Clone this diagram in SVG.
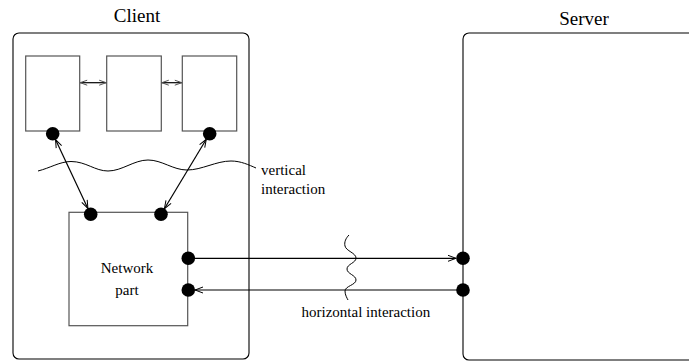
<svg xmlns="http://www.w3.org/2000/svg" width="689" height="362" viewBox="0 0 689 362">
<style>
.frame{fill:none;stroke:#000;stroke-width:1.1}
.box{fill:none;stroke:#555;stroke-width:1.2}
.dot{fill:#000}
.ln{fill:none;stroke:#000;stroke-width:1.2}
.wave{fill:none;stroke:#000;stroke-width:1}
text{font-family:'Liberation Serif','Times New Roman','DejaVu Serif',serif;fill:#000}
.title{font-size:19px}
.lbl{font-size:15px}
</style>
<defs>
<marker id="ah" viewBox="-10 -5 12 10" refX="0" refY="0" markerWidth="12" markerHeight="10" orient="auto-start-reverse" markerUnits="userSpaceOnUse">
<path d="M-8,-3 L0,0 L-8,3" fill="none" stroke="#000" stroke-width="1"/>
</marker>
<marker id="ahs" viewBox="-10 -5 12 10" refX="0" refY="0" markerWidth="12" markerHeight="10" orient="auto-start-reverse" markerUnits="userSpaceOnUse">
<path d="M-7,-2.5 L0,0 L-7,2.5" fill="none" stroke="#555" stroke-width="1"/>
</marker>
</defs>

<g id="client">
<rect class="frame" x="13" y="33" width="236" height="326" rx="6"/>
<text class="title" x="137" y="22" text-anchor="middle" font-family="Liberation Serif, serif">Client</text>
</g>
<g id="server">
<rect class="frame" x="463" y="33" width="300" height="327" rx="6"/>
<text class="title" x="584" y="25" text-anchor="middle" font-family="Liberation Serif, serif">Server</text>
</g>
<g id="comp1">
<rect class="box" x="25.7" y="56" width="54" height="75"/>
<circle class="dot" cx="52.7" cy="133.7" r="6.8"/>
</g>
<g id="comp2">
<rect class="box" x="106.7" y="56" width="54.6" height="75"/>
</g>
<g id="comp3">
<rect class="box" x="182.3" y="56" width="54.4" height="75"/>
<circle class="dot" cx="209.7" cy="133.7" r="6.8"/>
</g>
<g id="network">
<rect class="box" x="69" y="212.3" width="118.7" height="113.4"/>
<text class="lbl" x="127" y="273" text-anchor="middle" font-family="Liberation Serif, serif">Network</text>
<text class="lbl" x="127" y="295" text-anchor="middle" font-family="Liberation Serif, serif">part</text>
<circle class="dot" cx="90.7" cy="214.3" r="6.8"/>
<circle class="dot" cx="161" cy="214.3" r="6.8"/>
<circle class="dot" cx="188.3" cy="258.3" r="6.8"/>
<circle class="dot" cx="188.3" cy="290" r="6.8"/>
</g>
<g id="server-ports">
<circle class="dot" cx="463" cy="258.3" r="6.8"/>
<circle class="dot" cx="463" cy="290" r="6.8"/>
</g>

<g id="connectors">
<line class="ln" x1="80.2" y1="82.7" x2="106.2" y2="82.7" stroke-width="1.8" marker-start="url(#ahs)" marker-end="url(#ahs)"/>
<line class="ln" x1="161.8" y1="82.7" x2="181.8" y2="82.7" stroke-width="1.8" marker-start="url(#ahs)" marker-end="url(#ahs)"/>
<line class="ln" x1="55.5" y1="139.6" x2="87.9" y2="208.4" marker-start="url(#ah)" marker-end="url(#ah)"/>
<line class="ln" x1="206.3" y1="139.3" x2="164.4" y2="208.7" marker-start="url(#ah)" marker-end="url(#ah)"/>
<line class="ln" x1="194" y1="258.3" x2="456" y2="258.3" stroke="#333" stroke-width="1.5" marker-end="url(#ah)"/>
<line class="ln" x1="458" y1="290" x2="195" y2="290" marker-end="url(#ah)"/>
</g>

<g id="vertical-interaction">
<path class="wave" d="M38,171 C50,168 60,161.5 71,161.5 C86,161.5 95,171 108,171 C122,171 134,160 148,160 C162,160 173,170 187,170 C202,170 216,161 231,161 C241,161 249,165 256,168"/>
<text class="lbl" x="261" y="175" font-family="Liberation Serif, serif">vertical</text>
<text class="lbl" x="261" y="194" font-family="Liberation Serif, serif">interaction</text>
</g>
<g id="horizontal-interaction">
<path class="wave" d="M349,235 C346,238 344,242 345,246 C346,251 356,253 356,258 C356,263 347,264 347,269 C347,274 356,275 356,280 C356,285 345,286 345,291 C345,295 347,298 348,300"/>
<text class="lbl" x="301.5" y="316.5" font-family="Liberation Serif, serif">horizontal interaction</text>
</g>
</svg>
